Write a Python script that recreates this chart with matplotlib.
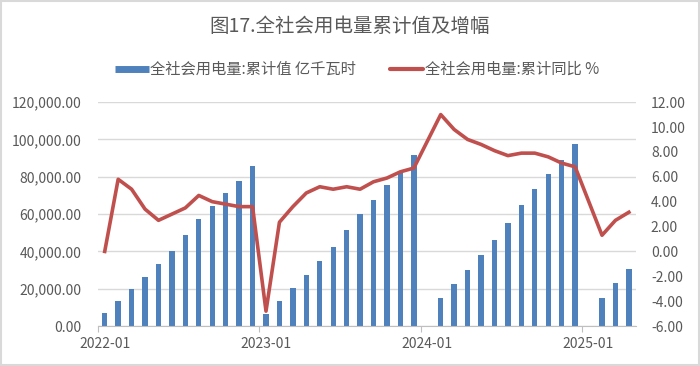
import numpy as np
import matplotlib
matplotlib.use("Agg")
import matplotlib.pyplot as plt
from matplotlib.lines import Line2D
from matplotlib.patches import Rectangle

plt.rcParams['font.family'] = ['Noto Sans CJK SC', 'DejaVu Sans']

# ---- data ----
months = [f"{y}-{m:02d}" for y in range(2022, 2026) for m in range(1, 13)][:40]
nan = np.nan
cum_value = [6800, 13200, 19950, 26200, 33200, 40500, 48700, 57400, 64200, 71300, 77700, 85600,
             6250, 13200, 20500, 27600, 34900, 42600, 51400, 59900, 67800, 75400, 82900, 91500,
             nan, 15000, 22800, 30100, 38000, 46200, 55300, 65100, 73500, 81300, 89200, 97700,
             nan, 15000, 23200, 30800]
cum_yoy = [0.0, 5.8, 5.0, 3.4, 2.5, 3.0, 3.5, 4.5, 4.0, 3.8, 3.6, 3.6,
           -4.8, 2.35, 3.6, 4.7, 5.2, 5.0, 5.2, 5.0, 5.6, 5.9, 6.4, 6.7,
           nan, 11.0, 9.8, 9.0, 8.6, 8.1, 7.7, 7.9, 7.9, 7.6, 7.1, 6.8,
           nan, 1.3, 2.5, 3.15]
xtick_labels = ["2022-01", "2023-01", "2024-01", "2025-01"]
title = "图17.全社会用电量累计值及增幅"
bar_label = "全社会用电量:累计值 亿千瓦时"
line_label = "全社会用电量:累计同比 %"

BLUE = "#4F81BD"
RED = "#C0504D"
TXT = "#595959"
GRID = "#D9D9D9"

x = np.arange(len(months))
vals = np.array(cum_value, dtype=float)
yoy = np.array(cum_yoy, dtype=float)

fig = plt.figure(figsize=(7.0, 3.66), dpi=100)
ax = fig.add_axes([0.140, 0.109, 0.768, 0.612])
ax2 = ax.twinx()

bmask = ~np.isnan(vals)
ax.bar(x[bmask], vals[bmask], width=0.4, color=BLUE, zorder=2)
ax.set_ylim(0, 120000)
ax.set_yticks(np.arange(0, 120001, 20000))
ax.yaxis.set_major_formatter(matplotlib.ticker.FuncFormatter(lambda v, p: f"{v:,.2f}"))
ax.grid(axis='y', color=GRID, lw=1.0, zorder=0)
ax.set_axisbelow(True)
ax.set_xlim(-0.5, len(months) - 0.5)

lmask = ~np.isnan(yoy)
ax2.plot(x[lmask], yoy[lmask], color=RED, lw=2.6, solid_joinstyle='round', zorder=3)
ax2.set_ylim(-6, 12)
ax2.set_yticks(np.arange(-6, 12.01, 2))
ax2.yaxis.set_major_formatter(matplotlib.ticker.FuncFormatter(lambda v, p: f"{v:.2f}"))

# x ticks: labels at January centers, tick marks at year boundaries
jan_idx = [months.index(s) for s in xtick_labels]
ax.set_xticks(jan_idx)
ax.set_xticklabels(xtick_labels)
ax.set_xticks([i - 0.5 for i in jan_idx], minor=True)
ax.tick_params(axis='x', which='major', length=0, pad=8, labelsize=10, labelcolor=TXT)
ax.tick_params(axis='x', which='minor', length=4, width=0.8, color="#BFBFBF")
ax.tick_params(axis='y', length=0, pad=12, labelsize=10, labelcolor=TXT)
ax2.tick_params(axis='y', length=0, pad=11, labelsize=10, labelcolor=TXT)

for a in (ax, ax2):
    for s in ('top', 'left', 'right'):
        a.spines[s].set_visible(False)
    a.spines['bottom'].set_color("#BFBFBF")
    a.spines['bottom'].set_linewidth(0.8)
ax2.spines['bottom'].set_visible(False)

fig.text(0.5, 0.928, title, ha='center', va='center', fontsize=14, color=TXT)

handles = [Line2D([0], [0], color=BLUE, lw=5, solid_capstyle='butt'),
           Line2D([0], [0], color=RED, lw=3, solid_capstyle='round')]
fig.legend(handles, [bar_label, line_label], loc='center', bbox_to_anchor=(0.51, 0.81),
           ncol=2, frameon=False, fontsize=11, labelcolor=TXT, handlelength=2.2,
           handletextpad=0.1, columnspacing=2.2)

fig.patches.append(Rectangle((0.002, 0.003), 0.996, 0.994, transform=fig.transFigure,
                             fill=False, edgecolor=GRID, lw=1.5))

fig.savefig("out.png", dpi=100)
